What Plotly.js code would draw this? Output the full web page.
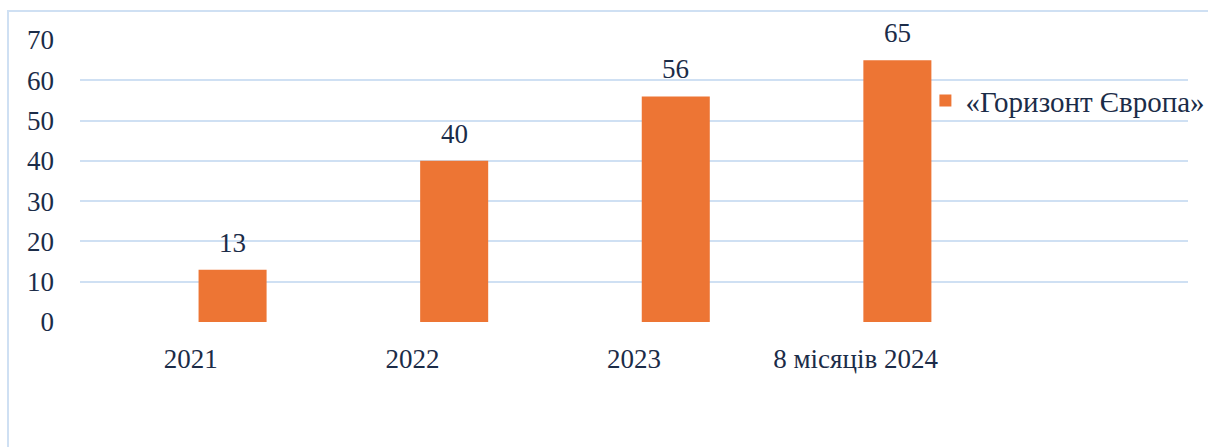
<!DOCTYPE html>
<html>
<head>
<meta charset="utf-8">
<script src="https://cdn.plot.ly/plotly-3.0.1.min.js"></script>
<style>
html,body{margin:0;padding:0;background:#fff;}
#chart{width:1208px;height:447px;position:absolute;left:0;top:0;}
#frame{position:absolute;left:7px;top:10px;width:1220px;height:460px;border:2px solid #cfe0f3;pointer-events:none;}
</style>
</head>
<body>
<div id="chart"></div>
<div id="frame"></div>
<script>
const categories = ["2021", "2022", "2023", "8 місяців 2024"];
const seriesName = "«Горизонт Європа»";
const values = [13, 40, 56, 65];
const yTicks = [0, 10, 20, 30, 40, 50, 60, 70];

const textColor = "#1b2c48";
const fontFam = "'Liberation Serif', 'Times New Roman', serif";
const fs = 27;

const idx = categories.map((c, i) => i);

const trace = {
  type: "bar",
  x: idx,
  y: values,
  name: seriesName,
  marker: {color: "#ed7534"},
  offset: 0.035,
  width: 0.307,
  hoverinfo: "skip",
  showlegend: true
};

const annotations = values.map((v, i) => ({
  x: i + 0.035 + 0.307 / 2,
  y: v,
  xref: "x",
  yref: "y",
  text: String(v),
  showarrow: false,
  yanchor: "bottom",
  yshift: 10,
  font: {family: fontFam, size: fs, color: textColor}
}));

const layout = {
  width: 1208,
  height: 447,
  margin: {l: 80, r: 20, t: 40, b: 125, autoexpand: false},
  paper_bgcolor: "rgba(0,0,0,0)",
  plot_bgcolor: "rgba(0,0,0,0)",
  font: {family: fontFam, size: fs, color: textColor},
  xaxis: {
    range: [-0.5, 4.5],
    tickvals: idx,
    ticktext: categories,
    showgrid: false,
    zeroline: false,
    showline: false,
    ticks: "",
    ticklen: 0,
    ticklabelstandoff: 18,
    tickfont: {family: fontFam, size: fs, color: textColor},
    fixedrange: true
  },
  yaxis: {
    range: [0, 70],
    tickvals: yTicks,
    showgrid: true,
    gridcolor: "#cfe0f3",
    gridwidth: 2,
    zeroline: false,
    showline: false,
    ticks: "",
    ticklabelstandoff: 25,
    tickfont: {family: fontFam, size: fs, color: textColor},
    fixedrange: true
  },
  showlegend: true,
  legend: {
    x: 0.763,
    y: 0.785,
    xanchor: "left",
    yanchor: "middle",
    bgcolor: "rgba(0,0,0,0)",
    font: {family: fontFam, size: 29, color: textColor},
    itemwidth: 30
  },
  annotations: annotations
};

Plotly.newPlot("chart", [trace], layout, {displayModeBar: false, staticPlot: true});
</script>
</body>
</html>
